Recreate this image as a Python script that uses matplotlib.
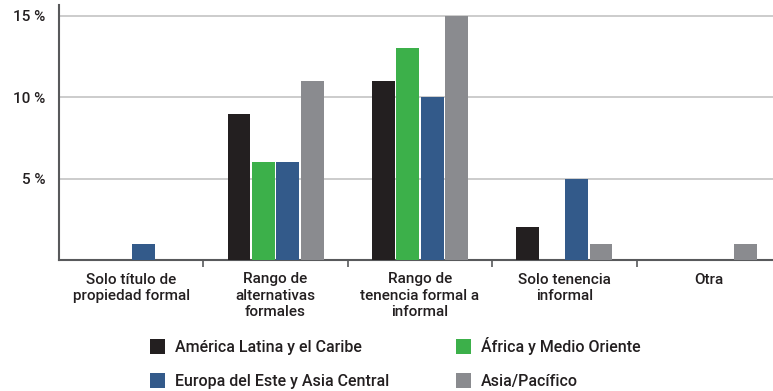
import matplotlib
matplotlib.use("Agg")
import matplotlib.pyplot as plt
import numpy as np
from matplotlib.patches import Patch

plt.rcParams['font.family'] = ['Roboto', 'DejaVu Sans']
plt.rcParams['font.weight'] = 500

categories = ["Solo título de\npropiedad formal",
              "Rango de\nalternativas\nformales",
              "Rango de\ntenencia formal a\ninformal",
              "Solo tenencia\ninformal",
              "Otra"]
regions = ["América Latina y el Caribe", "África y Medio Oriente",
           "Europa del Este y Asia Central", "Asia/Pacífico"]
america = [0, 9, 11, 2, 0]
africa = [0, 6, 13, 0, 0]
europa = [1, 6, 10, 5, 0]
asia = [0, 11, 15, 1, 1]
yticks = [5, 10, 15]
ytick_labels = ["5 %", "10 %", "15 %"]

series = [america, africa, europa, asia]
colors = ["#231f20", "#3cb04a", "#335a8a", "#8a8b8f"]
text_color = "#231f20"
fs = 11

fig = plt.figure(figsize=(7.73, 3.91), dpi=100)
ax = fig.add_axes([59/773, 1-260/391, 722/773, 255/391])

x = np.arange(len(categories))
step = 0.169
width = 0.158
handles = []
for i, (vals, c) in enumerate(zip(series, colors)):
    offs = (i - 1.5) * step
    ax.bar(x + offs, vals, width=width, color=c, zorder=3)
    handles.append(Patch(facecolor=c, edgecolor='none'))

ax.set_xlim(-0.5, 4.5)
ax.set_ylim(0, 15.67)
ax.set_yticks(yticks)
ax.set_yticklabels(ytick_labels, fontsize=fs, color=text_color)
ax.yaxis.grid(True, color="#c4c4c4", linewidth=1.2, zorder=0)
ax.tick_params(axis='y', length=0, pad=10)

ax.set_xticks(x)
ax.set_xticklabels(categories, fontsize=fs, color=text_color, linespacing=1.2, va='top')
ax.tick_params(axis='x', which='major', length=0, pad=9)
ax.set_xticks(np.arange(0.5, 4.5, 1), minor=True)
ax.tick_params(axis='x', which='minor', length=5, width=1.2, color="#58595b")

for s in ['top', 'right']:
    ax.spines[s].set_visible(False)
for s in ['left', 'bottom']:
    ax.spines[s].set_color("#58595b")
    ax.spines[s].set_linewidth(1.5)

order = [0, 2, 1, 3]
fig.legend([handles[k] for k in order], [regions[k] for k in order],
           ncol=2, loc='upper left', bbox_to_anchor=(150/773, 1-337/391),
           frameon=False, fontsize=11.5, handlelength=0.95, handleheight=1.05,
           handletextpad=0.6, columnspacing=4.2, labelspacing=1.15,
           borderaxespad=0, borderpad=0, labelcolor=text_color)

fig.savefig("out.png", dpi=100)
